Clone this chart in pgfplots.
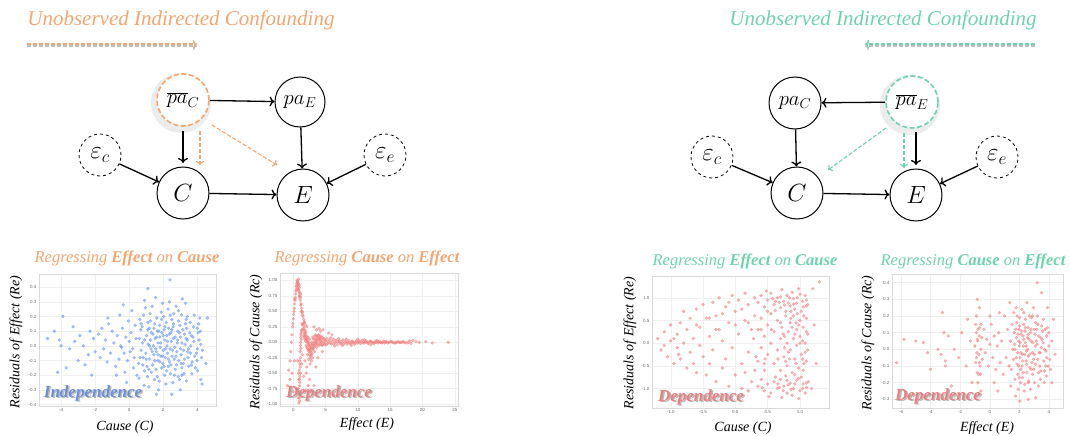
\documentclass[border=0pt]{standalone}
\usepackage{pgfplots}
\pgfplotsset{compat=1.18}
\usepackage{fontspec}
\setmainfont{Liberation Serif}
\newfontfamily\sansf{Liberation Sans}
\usetikzlibrary{arrows.meta,calc}
\definecolor{orng}{RGB}{245,165,110}
\definecolor{grn}{RGB}{108,212,172}
\definecolor{bdot}{RGB}{100,149,237}
\definecolor{rdot}{RGB}{240,128,128}
\definecolor{indep}{RGB}{106,143,216}
\definecolor{dep}{RGB}{232,128,128}
\newcommand\ticks{\sansf\fontsize{4.5}{5}\selectfont}
\pgfplotsset{panel/.style={scale only axis, anchor=north west,
  axis line style={draw=black!15}, grid=major, major grid style={draw=black!6,line width=0.4pt},
  tick style={draw=none}, major tick length=0pt, ticklabel style={font=\ticks, text=black!60},
  /pgf/number format/assume math mode=true, xticklabel style={yshift=1pt}, yticklabel style={xshift=1pt}},
  fmt/.style={/pgf/number format/fixed, /pgf/number format/precision=#1, /pgf/number format/fixed zerofill}}
\pgfplotsset{bdots/.style={only marks, mark=*, mark size=1.5pt, color=bdot, mark options={draw=none, fill=bdot, opacity=0.55}},
  rdots/.style={only marks, mark=*, mark size=1.5pt, color=rdot, mark options={draw=none, fill=rdot, opacity=0.55}}}
\begin{document}
\begin{tikzpicture}
\path[use as bounding box] (0,0) rectangle (1070pt,-436pt);
\begin{scope}[x=1pt,y=-1pt]
\tikzset{nd/.style={circle, draw, line width=1pt, minimum size=52pt, inner sep=0pt, font=\fontsize{25}{28}\selectfont},
 ep/.style={circle, draw, dashed, line width=0.8pt, minimum size=42pt, inner sep=0pt, font=\fontsize{23}{26}\selectfont},
 ar/.style={line width=1.3pt, -{To[length=5pt,width=10pt,line width=1.3pt]}},
 dar/.style={line width=1.1pt, dashed, dash pattern=on 4pt off 2pt, -{To[length=4pt,width=8pt,line width=1.1pt]}}}
% titles
\node[text=orng, font=\fontsize{21}{24}\selectfont\itshape] at (181,20) {Unobserved Indirected Confounding};
\draw[dar, draw=black!25] (27,46) -- (197,46);
\draw[dar, draw=orng] (27,44) -- (197,44);
\node[text=grn, font=\fontsize{21}{24}\selectfont\itshape] at (883,20) {Unobserved Indirected Confounding};
\draw[dar, draw=black!25] (1035,46) -- (865,46);
\draw[dar, draw=grn] (1035,44) -- (865,44);
% left diagram
\fill[black!15, opacity=0.5] (181,103) circle (30);
\node[nd, draw=orng, dashed, dash pattern=on 5pt off 2.5pt, line width=1.6pt, fill=white, font=\fontsize{22}{26}\selectfont] (pc) at (183,100) {$\overline{pa}_{C}$};
\node[nd, minimum size=50pt, font=\fontsize{22}{26}\selectfont] (pe) at (300,102) {$pa_{E}$};
\node[nd] (c) at (183,193) {$C$};
\node[nd] (e) at (303,195) {$E$};
\node[ep] (ec) at (100,155) {$\varepsilon_c$};
\node[ep] (ee) at (385,155) {$\varepsilon_e$};
\draw[ar] (pc) -- (pe);
\draw[ar] (183,131) -- (183,163);
\draw[ar] (pe) -- (e);
\draw[ar] (ec) -- (c);
\draw[ar] (ee) -- (e);
\draw[ar] (c) -- (e);
\draw[dar, draw=orng] (200,131) -- (200,165);
\draw[dar, draw=orng] (212,125) -- (277,165);
% right diagram
\fill[black!15, opacity=0.5] (910,105) circle (30);
\node[nd, font=\fontsize{22}{26}\selectfont] (pc2) at (795,103) {$pa_{C}$};
\node[nd, draw=grn, dashed, dash pattern=on 5pt off 2.5pt, line width=1.6pt, fill=white, font=\fontsize{22}{26}\selectfont] (pe2) at (912,102) {$\overline{pa}_{E}$};
\node[nd] (c2) at (797,193) {$C$};
\node[nd] (e2) at (916,195) {$E$};
\node[ep] (ec2) at (712,157) {$\varepsilon_c$};
\node[ep] (ee2) at (997,157) {$\varepsilon_e$};
\draw[ar] (pe2) -- (pc2);
\draw[ar] (pc2) -- (c2);
\draw[ar] (916,132) -- (916,165);
\draw[ar] (ec2) -- (c2);
\draw[ar] (ee2) -- (e2);
\draw[ar] (c2) -- (e2);
\draw[dar, draw=grn] (886,128) -- (828,170);
\draw[dar, draw=grn] (904,133) -- (904,168);
% panel titles
\tikzset{ttl/.style={font=\fontsize{16.5}{18}\selectfont\itshape}}
\node[ttl, text=orng] at (127,258) {Regressing \textbf{Effect} on \textbf{Cause}};
\node[ttl, text=orng] at (367,258) {Regressing \textbf{Cause} on \textbf{Effect}};
\node[ttl, text=grn] at (745,261) {Regressing \textbf{Effect} on \textbf{Cause}};
\node[ttl, text=grn] at (973,261) {Regressing \textbf{Cause} on \textbf{Effect}};
% axis labels
\tikzset{lab/.style={font=\fontsize{14}{16}\selectfont\itshape}}
\node[lab, rotate=90] at (16,342) {Residuals of Effect (Re)};
\node[lab] at (125,427) {Cause (C)};
\node[lab, rotate=90] at (256,342) {Residuals of Cause (Rc)};
\node[lab] at (367,424) {Effect (E)};
\node[lab, rotate=90] at (630,343) {Residuals of Effect (Re)};
\node[lab] at (743,428) {Cause (C)};
\node[lab, rotate=90] at (868,343) {Residuals of Cause (Rc)};
\node[lab] at (987,428) {Effect (E)};
\end{scope}

% ---------- Panel 1
\begin{axis}[panel, at={(39pt,-274pt)}, width=177pt, height=132pt,
  xmin=-5.3, xmax=5.1, ymin=-0.41, ymax=0.49,
  xtick={-4,-2,0,2,4}, ytick={-0.4,-0.3,-0.2,-0.1,0,0.1,0.2,0.3,0.4},
  yticklabel style={fmt=1}]
\addplot[bdots] coordinates {
(0.6,0.05)(0.55,-0.12)(0.62,0.18)(0.7,-0.03)(0.58,-0.22)(0.68,0.11)
(0.82,-0.08)(0.78,0.02)(0.85,0.21)(0.9,-0.17)(0.76,0.13)(0.88,-0.27)
(1.02,0.07)(0.98,-0.05)(1.05,-0.14)(1.1,0.16)(0.95,0.26)(1.08,-0.21)(1.12,0.01)
(1.2,-0.09)(1.25,0.04)(1.18,0.12)(1.3,-0.18)(1.22,0.22)(1.28,-0.02)(1.15,-0.28)
(1.4,0.08)(1.45,-0.06)(1.38,-0.13)(1.5,0.15)(1.42,0.0)(1.35,0.27)(1.48,-0.23)(1.52,0.05)
(1.6,-0.04)(1.65,0.1)(1.58,-0.16)(1.7,0.02)(1.62,0.19)(1.68,-0.1)(1.55,0.33)(1.72,-0.3)
(1.8,0.06)(1.85,-0.07)(1.78,0.14)(1.9,-0.15)(1.82,-0.01)(1.88,0.23)(1.76,-0.24)(1.92,0.09)
(2.0,-0.03)(2.05,0.11)(1.98,-0.12)(2.1,0.04)(2.02,0.2)(2.08,-0.2)(1.96,0.29)(2.12,-0.08)
(2.2,0.07)(2.25,-0.05)(2.18,0.16)(2.3,-0.14)(2.22,0.0)(2.28,0.25)(2.16,-0.26)(2.32,0.12)
(2.4,-0.02)(2.45,0.09)(2.38,-0.11)(2.5,0.18)(2.42,-0.19)(2.48,0.03)(2.36,0.3)(2.52,-0.07)
(2.6,0.05)(2.65,-0.09)(2.58,0.13)(2.7,-0.16)(2.62,0.22)(2.68,-0.01)(2.56,-0.25)
(2.8,-0.04)(2.85,0.1)(2.78,-0.13)(2.9,0.17)(2.82,0.02)(2.88,-0.21)(2.76,0.27)
(3.0,0.06)(3.05,-0.06)(2.98,0.14)(3.1,-0.15)(3.02,-0.02)(3.08,0.21)(2.96,-0.23)(3.12,0.32)
(3.2,-0.03)(3.25,0.08)(3.18,-0.12)(3.3,0.15)(3.22,-0.19)(3.28,0.01)
(3.4,0.04)(3.45,-0.08)(3.38,0.12)(3.5,-0.14)(3.42,0.2)(3.48,-0.02)(3.36,-0.24)
(3.6,-0.05)(3.65,0.07)(3.58,0.16)(3.7,-0.11)(3.62,0.0)(3.68,-0.19)
(3.8,0.03)(3.85,-0.07)(3.78,0.13)(3.9,-0.15)(3.82,0.21)
(4.0,-0.02)(4.05,0.09)(3.98,-0.1)(4.1,0.04)(4.02,-0.17)(4.08,0.15)
(4.2,0.01)(4.25,-0.08)(4.18,0.1)(4.3,-0.03)(4.15,0.19)(4.28,-0.26)
(4.6,0.19)(4.5,-0.12)(2.4,0.45)(1.1,0.39)(0.9,0.31)(3.3,0.29)(1.6,-0.33)(2.5,-0.33)(3.0,-0.3)(4.2,-0.23)
(0.4,0.05)(0.3,-0.08)(0.35,0.14)(0.2,-0.02)(0.1,0.09)(0.25,-0.15)(0.0,0.03)(-0.1,-0.1)(-0.05,0.17)
(-0.2,0.06)(-0.3,-0.05)(-0.25,-0.18)(-0.4,0.12)(-0.5,0.0)(-0.6,-0.09)(-0.55,0.21)(-0.7,0.07)
(-0.8,-0.14)(-0.9,0.02)(-1.0,0.1)(-1.1,-0.05)(-1.2,0.15)(-1.3,-0.11)(-1.4,0.04)(-1.5,-0.02)
(-1.6,0.12)(-1.7,-0.08)(-1.8,0.08)(-2.0,-0.04)(-2.1,0.05)(-2.2,-0.2)(-2.3,0.1)(-2.4,-0.06)
(0.15,0.24)(-0.15,-0.25)(0.45,-0.2)(-0.35,0.28)(-0.75,-0.2)(-1.25,0.19)(0.05,-0.04)(-0.45,-0.01)
(-2.7,0.0)(-2.9,0.07)(-3.0,-0.1)(-3.2,0.03)(-3.5,-0.02)(-3.7,-0.15)(-3.9,0.2)(-4.2,-0.18)
(-4.1,0.04)(-4.4,0.1)(-4.8,0.05)(-4.0,0.0)(-3.3,0.13)(-2.6,-0.13)
(0.9,0.04)(1.0,-0.09)(1.1,0.11)(1.2,0.0)(1.3,0.09)(1.35,-0.04)(1.45,0.12)(1.5,-0.1)(1.55,-0.02)
(1.6,0.06)(1.7,-0.06)(1.75,0.1)(1.8,-0.11)(1.85,0.02)(1.95,-0.07)(2.0,0.07)(2.05,-0.14)(2.1,0.13)
(2.15,-0.02)(2.25,0.03)(2.3,-0.09)(2.35,0.08)(2.45,-0.13)(2.5,0.11)(2.55,-0.03)(2.6,0.15)(2.7,0.06)
(2.75,-0.07)(2.85,0.04)(2.9,-0.1)(2.95,0.09)(3.05,-0.12)(3.1,0.02)(3.15,0.11)(3.25,-0.09)(3.35,0.05)
(3.45,-0.04)(3.55,0.09)(3.65,-0.13)(3.75,0.06)(1.15,-0.16)(1.25,0.17)(1.65,-0.21)(1.9,0.18)(2.2,-0.17)
(2.4,0.21)(2.65,-0.2)(2.9,0.24)(3.1,-0.2)(3.35,0.18)(0.7,0.15)(0.65,-0.08)(0.8,-0.13)(4.0,0.12)(3.95,-0.05)
};
\end{axis}

% ---------- Panel 2
\begin{axis}[panel, at={(280pt,-273pt)}, width=178pt, height=133pt,
  xmin=-2.06, xmax=25.5, ymin=-1.03, ymax=1.12,
  xtick={0,5,10,15,20,25}, ytick={-1,-0.75,-0.5,-0.25,0,0.25,0.5,0.75,1},
  yticklabel style={fmt=2}]
\addplot[rdots] coordinates {
(-0.7,-0.45)(-0.5,-0.3)(-0.4,-0.15)(-0.3,0.0)(-0.2,0.12)(-0.1,0.25)(0.0,0.38)(0.1,0.5)(0.2,0.62)
(0.3,0.72)(0.4,0.83)(0.5,0.92)(0.6,1.0)(0.35,0.78)(0.15,0.55)(-0.05,0.3)(0.45,0.9)(0.55,0.95)(0.25,0.68)
(0.7,0.98)(0.8,0.95)(0.9,0.88)(1.0,0.8)(1.1,0.72)(1.2,0.62)(1.3,0.55)(1.4,0.48)(1.5,0.42)(1.6,0.37)
(1.75,0.32)(1.9,0.28)(2.1,0.25)(0.75,0.9)(0.85,0.85)(0.95,0.92)(1.05,0.68)(1.15,0.78)(0.65,0.85)
(0.9,0.75)(1.25,0.5)(0.8,1.02)
(0.85,-0.98)(0.9,-0.85)(0.95,-0.7)(1.0,-0.55)(1.05,-0.4)(1.1,-0.25)(1.15,-0.1)(1.2,0.05)(1.3,0.18)
(1.4,0.28)(0.8,-0.9)(0.88,-0.6)(0.92,-0.45)(1.0,-0.3)(1.05,-0.15)(1.12,0.0)(1.18,0.12)(0.95,-0.8)
(0.98,-0.95)(1.02,-0.65)(0.75,-0.75)(0.8,-0.5)(1.08,-0.5)(1.25,0.2)(1.35,0.3)(0.7,-0.3)
(1.5,0.2)(1.6,0.1)(1.7,0.15)(1.8,0.05)(1.9,0.1)(2.0,-0.05)(2.1,0.0)(2.2,-0.1)(2.3,-0.05)(2.4,-0.15)
(2.5,-0.2)(2.6,-0.25)(2.7,-0.15)(2.8,-0.2)(2.9,-0.1)(3.0,-0.12)(3.2,-0.05)(3.4,0.0)(3.6,0.05)
(3.8,0.08)(4.0,0.05)(4.3,0.02)(1.55,0.3)(1.65,0.25)(1.75,0.2)(1.85,0.18)(1.95,0.15)(2.05,0.1)
(2.15,0.05)(2.25,0.08)(2.35,0.0)(2.45,-0.05)(2.55,-0.1)(2.65,-0.05)(2.75,-0.08)(2.85,0.0)(2.95,-0.03)
(3.1,0.05)(3.3,0.1)(3.5,0.12)(3.7,0.1)(3.9,0.12)(4.2,0.1)(4.5,0.08)(4.8,0.06)(2.2,-0.2)(2.4,-0.28)
(2.6,-0.35)(2.8,-0.3)(3.0,-0.25)(3.3,-0.15)(3.6,-0.08)(4.0,-0.05)(4.4,-0.04)(4.8,-0.03)(2.5,0.05)
(3.0,0.08)(3.5,-0.03)(4.1,-0.01)(5.0,0.03)(5.3,-0.02)(5.6,0.04)(5.9,-0.03)(6.2,0.05)(6.5,0.0)
(6.8,-0.04)(7.1,0.03)(7.4,-0.02)(7.7,0.04)(8.0,0.0)(8.3,-0.03)(8.6,0.03)(8.9,-0.02)(9.2,0.02)
(9.5,-0.03)(9.8,0.03)(10.1,0.0)(10.4,-0.02)(10.7,0.03)(11.0,-0.01)(11.3,0.02)(11.6,-0.02)(11.9,0.02)
(12.2,0.0)(12.5,-0.02)(12.8,0.02)(13.1,-0.01)(13.4,0.01)(13.7,-0.01)(14.0,0.02)(14.3,0.0)(14.6,-0.01)
(15.0,0.01)(15.4,0.0)(15.8,-0.01)(16.2,0.01)(16.6,0.0)(17.0,0.01)(17.5,-0.01)(18.0,0.02)(18.5,0.03)
(19.5,0.0)(20.5,0.01)(21.5,-0.01)(24.0,0.0)(5.2,0.06)(5.8,0.07)(6.4,-0.06)(7.0,0.06)(7.6,-0.05)
(8.2,0.05)(9.0,-0.05)(10.0,0.05)(11.0,0.04)(12.0,-0.04)(13.0,0.03)(4.6,0.2)(5.5,0.15)(6.0,0.12)
(3.2,0.25)(4.0,0.22)(2.0,-0.5)(2.3,-0.7)(2.5,-0.6)(2.8,-0.8)(3.2,-0.7)(1.8,-0.3)(2.1,-0.4)(3.5,-0.4)
(1.6,-0.55)(1.9,-0.78)(1.4,-0.2)(1.3,-0.35)(-0.9,-0.7)(-0.5,-0.6)(0.0,-0.8)(0.2,-0.3)(-0.2,-0.5)
(3.8,-0.25)(4.5,-0.15)(4.2,0.18)(3.6,0.2)
(1.6,0.22)(1.7,0.08)(1.8,0.12)(1.9,0.02)(2.0,0.05)(2.1,-0.08)(2.2,0.02)(2.3,-0.12)(2.4,-0.02)(2.5,-0.12)
(2.6,-0.15)(2.7,-0.22)(2.8,-0.1)(2.9,-0.18)(3.0,-0.05)(3.1,-0.1)(3.2,0.0)(3.3,-0.07)(3.4,0.06)(3.5,0.03)
(3.6,-0.02)(3.7,0.02)(3.8,-0.04)(3.9,0.04)(4.0,0.1)(4.1,0.06)(4.2,-0.02)(4.3,0.07)(4.4,0.01)(4.5,-0.05)
(4.6,0.05)(4.7,-0.01)(4.9,0.02)(5.1,-0.04)(5.4,0.01)(5.7,-0.01)(6.0,0.02)(6.3,-0.02)(6.6,0.03)(6.9,0.01)
(7.2,-0.01)(7.5,0.01)(7.8,-0.03)(8.1,0.02)(8.4,0.0)(8.7,-0.01)(9.0,0.01)(9.3,-0.01)(9.6,0.0)(9.9,-0.01)
(10.2,0.02)(10.5,0.01)(10.8,-0.01)(11.1,0.01)(11.4,0.0)(11.7,0.0)(12.0,0.01)(12.3,-0.01)(12.6,0.0)
(12.9,0.0)(13.2,0.01)(13.5,0.0)(13.8,0.0)(14.1,-0.01)(14.4,0.01)(14.8,0.0)(15.2,0.01)(15.6,-0.01)
(16.0,0.0)(16.4,0.0)(16.8,0.0)(17.2,0.0)(17.8,0.0)(19.0,0.01)(18.2,-0.02)
(0.05,0.45)(0.25,0.7)(0.45,0.86)(0.62,0.97)(0.72,0.93)(0.88,0.82)(1.02,0.74)(1.18,0.6)(1.35,0.5)
(1.45,0.44)(1.7,0.33)(0.92,-0.9)(0.97,-0.6)(1.03,-0.35)(1.1,-0.05)(1.15,0.08)(1.22,0.15)
};
\end{axis}

% ---------- Panel 3
\begin{axis}[panel, at={(652pt,-276pt)}, width=177pt, height=132pt,
  xmin=-1.29, xmax=1.45, ymin=-1.43, ymax=1.48,
  xtick={-1,-0.5,0,0.5,1}, ytick={-1,-0.5,0,0.5,1},
  xticklabel style={fmt=1}, yticklabel style={fmt=1}]
\addplot[rdots] coordinates {
(-1.2,0.1)(-1.15,-0.15)(-1.1,0.25)(-1.05,-0.3)(-1.0,0.05)(-1.0,0.4)(-0.95,-0.45)(-0.9,0.2)(-0.9,-0.1)
(-0.85,0.45)(-0.85,-0.35)(-0.8,0.7)(-0.8,0.0)(-0.75,-0.55)(-0.75,0.3)(-0.7,-0.2)(-0.7,0.55)(-0.65,0.1)
(-0.65,-0.45)(-0.6,0.75)(-0.6,-0.65)(-0.55,0.35)(-0.55,-0.05)(-0.5,0.85)(-0.5,-0.3)(-1.1,-0.05)
(-0.95,0.1)(-0.88,-0.25)
(-0.45,0.55)(-0.45,-0.7)(-0.4,0.15)(-0.4,-0.45)(-0.35,0.9)(-0.35,-0.15)(-0.3,0.6)(-0.3,-0.85)
(-0.25,0.3)(-0.25,1.0)(-0.2,-0.55)(-0.2,0.05)(-0.15,0.8)(-0.15,-0.35)(-0.1,0.45)(-0.1,-0.95)
(-0.05,1.05)(-0.05,-0.1)(0.0,0.7)(0.0,-0.7)(0.05,0.2)(0.05,0.95)(0.1,-0.45)(0.1,-1.0)(0.15,0.5)
(0.15,1.1)(0.2,-0.2)(0.2,0.85)(0.25,-0.85)(0.25,0.3)(0.3,1.0)(0.3,-0.6)(0.0,0.4)(-0.1,0.9)(0.1,0.75)
(0.2,-1.05)(-0.3,0.3)(0.28,0.1)
(0.35,0.9)(0.4,1.05)(0.45,0.8)(0.5,0.95)(0.55,1.1)(0.6,0.85)(0.65,1.0)(0.7,0.78)(0.75,0.92)(0.8,1.05)
(0.85,0.82)(0.9,0.98)(0.95,0.88)(1.0,1.08)(1.05,0.8)(1.1,0.95)(1.12,0.85)(0.62,0.72)(0.78,0.7)
(0.92,0.75)(1.02,0.7)(0.48,1.15)(0.72,1.18)(0.88,1.12)(0.98,1.2)(1.08,1.05)(0.82,0.88)(0.68,0.9)(0.58,0.98)
(0.35,-0.95)(0.4,-0.8)(0.45,-1.05)(0.5,-0.9)(0.55,-1.1)(0.6,-0.85)(0.65,-1.0)(0.7,-0.8)(0.75,-0.95)
(0.8,-1.1)(0.85,-0.88)(0.9,-1.0)(0.95,-0.82)(1.0,-1.05)(1.05,-0.9)(1.1,-0.98)(1.13,-0.85)(0.62,-0.75)
(0.78,-0.72)(0.92,-0.7)(1.02,-0.75)(0.52,-1.18)(0.72,-1.2)(0.88,-1.15)(0.98,-1.22)(1.08,-1.1)
(0.82,-0.92)(0.68,-0.98)(0.42,-0.98)
(0.35,0.3)(0.35,-0.4)(0.4,0.55)(0.4,-0.1)(0.45,0.15)(0.45,-0.6)(0.5,0.4)(0.5,-0.25)(0.55,0.65)
(0.55,0.0)(0.6,-0.45)(0.6,0.25)(0.65,-0.15)(0.65,0.5)(0.7,0.1)(0.7,-0.6)(0.72,0.35)(0.75,-0.3)
(0.78,0.6)(0.8,0.0)(0.8,-0.5)(0.82,0.25)(0.85,-0.15)(0.85,0.45)(0.88,-0.65)(0.9,0.1)(0.9,0.6)
(0.92,-0.35)(0.95,0.3)(0.95,-0.05)(0.98,-0.55)(1.0,0.5)(1.0,0.15)(1.02,-0.25)(1.05,0.35)(1.05,-0.6)
(1.08,0.0)(1.1,0.55)(1.1,-0.4)(1.12,0.2)(1.12,-0.15)(0.86,0.7)(0.76,-0.1)(0.96,0.65)(1.06,-0.45)
(0.74,0.2)(0.84,-0.35)(0.94,0.45)(1.04,0.05)(0.66,-0.35)(0.56,0.3)(0.46,-0.35)
(1.3,1.35)(1.25,-0.45)(1.2,1.2)(1.18,-1.0)(1.22,0.4)
(0.62,0.92)(0.7,1.02)(0.76,0.84)(0.84,1.0)(0.9,0.86)(0.96,1.0)(1.04,0.92)(1.1,0.82)(0.66,-0.9)
(0.74,-1.05)(0.8,-0.82)(0.86,-1.02)(0.92,-0.9)(0.98,-0.78)(1.04,-1.0)(1.1,-0.88)(0.7,0.45)(0.76,0.15)
(0.82,-0.2)(0.88,0.35)(0.94,-0.45)(1.0,0.0)(1.06,0.6)(1.1,0.25)(0.78,-0.4)(0.86,0.55)(0.92,0.2)
(0.98,0.4)(1.04,-0.35)(1.08,-0.2)(0.5,0.7)(0.4,0.3)(0.3,0.6)(0.2,0.45)(0.45,-0.45)(0.32,-0.3)
(0.15,-0.65)(-0.2,0.65)(-0.4,0.55)(-0.6,0.4)
};
\end{axis}

% ---------- Panel 4
\begin{axis}[panel, at={(892pt,-274pt)}, width=171pt, height=134pt,
  xmin=-6.61, xmax=4.95, ymin=-0.352, ymax=0.452,
  xtick={-6,-4,-2,0,2,4}, ytick={-0.3,-0.2,-0.1,0,0.1,0.2,0.3,0.4},
  yticklabel style={fmt=1}]
\addplot[rdots] coordinates {
(1.4,0.05)(1.45,-0.12)(1.5,0.15)(1.42,-0.22)(1.55,0.0)
(1.6,-0.06)(1.65,0.1)(1.7,-0.18)(1.62,0.22)(1.68,0.03)(1.75,-0.28)
(1.8,0.07)(1.85,-0.09)(1.82,0.16)(1.9,-0.15)(1.88,-0.02)(1.78,0.25)(1.92,-0.24)
(2.0,0.02)(2.05,-0.05)(1.98,0.12)(2.1,-0.12)(2.02,0.19)(2.08,-0.2)(1.96,0.05)(2.12,0.09)(2.04,-0.31)
(2.2,-0.03)(2.25,0.08)(2.18,-0.1)(2.3,0.15)(2.22,-0.17)(2.28,0.02)(2.16,0.24)(2.32,-0.25)
(2.4,0.04)(2.45,-0.07)(2.38,0.11)(2.5,-0.14)(2.42,0.18)(2.48,-0.01)(2.36,-0.21)(2.52,0.28)
(2.6,-0.04)(2.65,0.06)(2.58,0.13)(2.7,-0.11)(2.62,-0.19)(2.68,0.2)(2.56,0.0)
(2.8,0.05)(2.85,-0.08)(2.78,0.12)(2.9,-0.15)(2.82,0.19)(2.88,-0.02)(2.76,-0.24)
(3.0,-0.03)(3.05,0.09)(2.98,-0.12)(3.1,0.16)(3.02,-0.2)(3.08,0.02)(2.96,0.25)(3.2,0.4)
(3.2,0.03)(3.25,-0.06)(3.18,0.12)(3.3,-0.14)(3.22,0.2)(3.28,-0.22)(3.5,0.34)
(3.4,-0.02)(3.45,0.07)(3.38,-0.1)(3.5,0.14)(3.42,-0.18)(3.48,0.01)
(3.6,0.04)(3.65,-0.07)(3.58,0.11)(3.7,-0.13)(3.62,0.18)(3.68,-0.2)
(3.8,-0.01)(3.85,0.08)(3.78,-0.1)(3.9,0.13)(3.82,-0.16)
(4.0,0.02)(4.05,-0.06)(3.98,0.1)(4.1,-0.12)(4.2,0.05)(4.4,-0.03)(4.3,0.18)(4.2,-0.2)(3.9,0.25)
(2.6,-0.3)(1.3,-0.1)(1.2,0.12)(1.1,-0.05)(1.0,0.2)(1.35,0.28)(3.1,-0.29)
(-1.0,0.02)(-0.95,-0.08)(-0.9,0.1)(-0.85,-0.14)(-0.8,0.05)(-0.75,-0.03)(-0.7,0.13)(-0.65,-0.1)
(-0.6,0.0)(-0.55,0.07)(-0.5,-0.06)(-0.9,0.2)(-0.8,-0.2)(-0.7,0.25)(-0.4,0.12)(-0.3,-0.02)(-0.2,0.06)
(-0.1,-0.1)(0.0,0.03)(0.1,0.15)(0.2,-0.05)(0.3,0.08)(0.4,-0.12)(0.5,0.02)(0.6,0.1)(0.7,-0.08)
(0.8,0.05)(0.9,-0.15)(-0.85,0.3)(-0.6,-0.25)(0.0,0.2)(0.3,-0.2)(-0.95,0.15)(-0.88,-0.02)(-0.72,0.08)
(-0.62,-0.15)(0.55,-0.25)(0.65,0.22)
(-1.3,0.05)(-1.6,-0.1)(-1.9,0.1)(-2.1,-0.05)(-2.4,0.0)(-2.8,0.08)(-3.0,-0.07)(-3.2,0.22)(-3.1,0.1)
(-3.3,-0.03)(-3.5,0.0)(-4.0,-0.12)(-4.2,-0.02)(-4.5,0.04)(-5.0,0.05)(-5.8,0.06)(-6.3,-0.08)
(-2.6,-0.22)(-1.5,0.18)(-1.2,-0.2)(-3.0,-0.1)
(1.7,0.0)(1.75,0.12)(1.8,-0.05)(1.9,0.09)(1.95,-0.1)(2.0,0.14)(2.05,0.04)(2.1,-0.02)(2.15,0.11)
(2.2,-0.07)(2.25,-0.14)(2.3,0.06)(2.35,-0.03)(2.4,0.13)(2.45,0.02)(2.5,-0.09)(2.55,0.07)(2.6,0.09)
(2.7,-0.03)(2.75,0.1)(2.8,-0.12)(2.9,0.04)(2.95,-0.06)(3.0,0.12)(3.1,-0.09)(3.15,0.05)(3.3,0.08)
(3.35,-0.02)(3.45,-0.13)(3.55,0.06)(3.7,0.0)(3.75,0.12)(3.85,-0.05)(3.95,-0.1)(2.0,-0.17)(2.3,0.22)
(2.6,-0.2)(2.9,0.2)(1.85,0.2)(3.25,0.15)(-0.9,-0.05)(-0.8,0.12)(-0.7,-0.08)(-0.6,0.15)(-0.85,0.06)
(-0.75,-0.15)
};
\end{axis}

% overlay words
\begin{scope}[x=1pt,y=-1pt]
\tikzset{word/.style={font=\fontsize{17}{20}\selectfont\bfseries\itshape}}
\node[word, text=black!45, opacity=0.6] at (94.5,394.5) {Independence};
\node[word, text=indep] at (93,393) {Independence};
\node[word, text=black!45, opacity=0.6] at (330.5,394.5) {Dependence};
\node[word, text=dep] at (329,393) {Dependence};
\node[word, text=black!45, opacity=0.6] at (702.5,398.5) {Dependence};
\node[word, text=dep] at (701,397) {Dependence};
\node[word, text=black!45, opacity=0.6] at (939.5,397.5) {Dependence};
\node[word, text=dep] at (938,396) {Dependence};
\end{scope}
\end{tikzpicture}
\end{document}
